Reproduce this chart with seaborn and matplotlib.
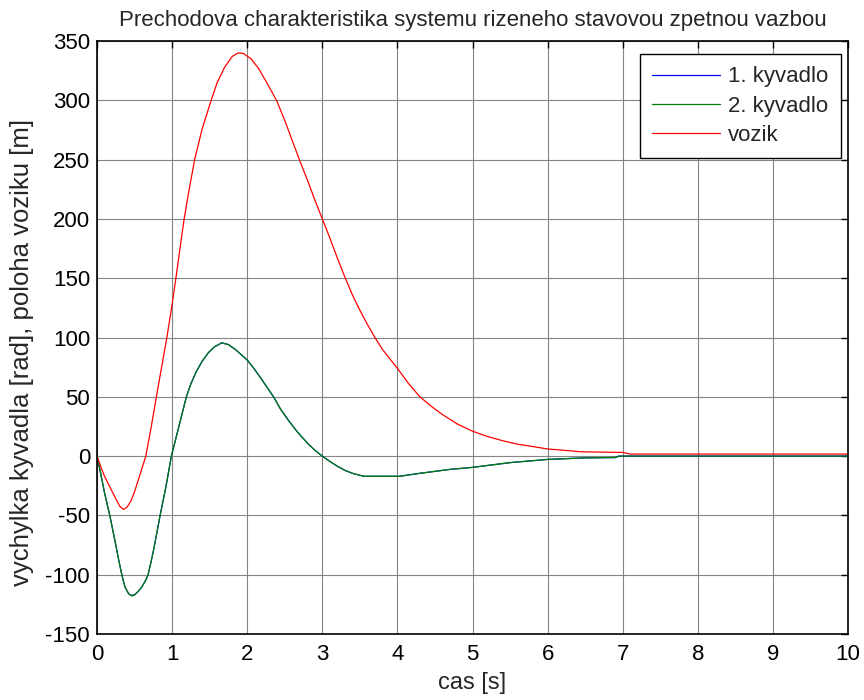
import matplotlib
matplotlib.use("Agg")
import matplotlib.pyplot as plt
import seaborn as sns
import pandas as pd

# Step response of the double pendulum on a cart under state feedback
t_pend = [0, 0.05, 0.1, 0.17, 0.25, 0.29, 0.33, 0.37, 0.42, 0.46, 0.5, 0.55,
          0.6, 0.65, 0.68, 0.72, 0.76, 0.8, 0.84, 0.92, 0.99, 1.09, 1.19,
          1.25, 1.32, 1.4, 1.48, 1.56, 1.66, 1.75, 1.85, 2.0, 2.1, 2.2, 2.35,
          2.44, 2.55, 2.66, 2.8, 2.9, 3.0, 3.1, 3.2, 3.3, 3.4, 3.55, 4.03,
          4.3, 4.7, 5.0, 5.5, 6.0, 6.5, 6.9, 6.95, 10]
pend1 = [0, -15, -31, -50, -75, -88, -100, -110, -116, -117.5, -117, -114,
         -110, -104.5, -100, -89, -77, -63.5, -50, -25, 0, 25, 50, 61, 71,
         80, 87, 92, 95.5, 94, 89.5, 81, 73, 64, 50, 40, 30, 21, 11, 5, 0,
         -4.5, -8.5, -12, -14.5, -17, -17, -14.5, -11.2, -9.5, -5.5, -2.8,
         -1.5, -1.2, 0, 0]
pend2 = [0, -15, -31, -50, -75, -88, -100, -110, -116, -118, -117, -114,
         -110, -104.5, -100, -89, -77, -63.5, -50, -25, 0, 25, 50, 61, 71,
         80, 87, 92, 95.5, 94, 89.5, 81, 73, 64, 50, 40, 30, 21, 11, 5, 0,
         -4.5, -8.5, -12, -14.5, -17, -17, -14.5, -11.2, -9.5, -5.5, -2.8,
         -1.5, -1.2, 0, 0]

t_cart = [0, 0.05, 0.1, 0.17, 0.25, 0.3, 0.35, 0.4, 0.45, 0.5, 0.55, 0.6,
          0.65, 0.72, 0.79, 0.86, 0.93, 1.0, 1.05, 1.1, 1.16, 1.23, 1.3, 1.4,
          1.52, 1.6, 1.7, 1.8, 1.88, 1.95, 2.05, 2.15, 2.25, 2.39, 2.5, 2.6,
          2.7, 2.8, 2.9, 3.0, 3.1, 3.2, 3.3, 3.4, 3.5, 3.6, 3.7, 3.8, 3.9,
          4.0, 4.15, 4.3, 4.45, 4.6, 4.8, 5.0, 5.2, 5.4, 5.6, 5.77, 6.0, 6.2,
          6.45, 7.0, 7.1, 10]
cart = [0, -9, -17, -26, -36, -42, -45, -43, -38, -30, -20, -10, 0, 24, 50,
        75, 100, 128, 150, 173, 200, 226, 250, 276, 300, 315, 328, 337, 340,
        339.5, 335, 327, 316, 300, 283, 266, 249, 233, 216, 200, 184, 167,
        151, 136, 123, 111, 100, 90, 82, 74, 61, 50, 42, 35, 27, 21, 16.5,
        13, 10, 8.4, 6, 5, 3.6, 3.1, 1.7, 1.7]

series_labels = ["1. kyvadlo", "2. kyvadlo", "vozik"]
series_colors = ["#0000ff", "#008000", "#ff0000"]

x_ticks = list(range(0, 11))
y_ticks = list(range(-150, 351, 50))

sns.set_style("white")
plt.rcParams["font.family"] = ["Liberation Sans", "DejaVu Sans"]
plt.rcParams["axes.unicode_minus"] = False

fig = plt.figure(figsize=(8.64, 7.0), dpi=100)
ax = fig.add_axes([0.1123, 0.0943, 0.8692, 0.8471])

frames = [
    pd.DataFrame({"t": t_pend, "y": pend1}),
    pd.DataFrame({"t": t_pend, "y": pend2}),
    pd.DataFrame({"t": t_cart, "y": cart}),
]
for df, lab, col in zip(frames, series_labels, series_colors):
    sns.lineplot(data=df, x="t", y="y", ax=ax, color=col, label=lab,
                 linewidth=0.9, estimator=None, sort=False)

ax.set_xlim(0, 10)
ax.set_ylim(-150, 350)
ax.set_xticks(x_ticks)
ax.set_yticks(y_ticks)
ax.grid(True, color="#858585", linewidth=0.8)
ax.set_axisbelow(True)

for s in ax.spines.values():
    s.set_visible(True)
    s.set_color("black")
    s.set_linewidth(1.2)

ax.tick_params(direction="in", length=5, width=1.0, labelsize=16,
               top=True, right=True, colors="black", pad=7)
ax.tick_params(axis="y", pad=5)

ax.set_title("Prechodova charakteristika systemu rizeneho stavovou zpetnou vazbou",
             fontsize=16, pad=11)
ax.set_xlabel("cas [s]", fontsize=17, labelpad=5)
ax.set_ylabel("vychylka kyvadla [rad], poloha voziku [m]", fontsize=18.5)
ax.yaxis.set_label_coords(-0.084, 0.474)

leg = ax.legend(loc="upper right", bbox_to_anchor=(0.990, 0.978),
                borderaxespad=0, fontsize=16, frameon=True, fancybox=False,
                framealpha=1, edgecolor="black", handlelength=3.05,
                handletextpad=0.36, labelspacing=0.38, borderpad=0.55)
leg.get_frame().set_linewidth(1.0)

fig.savefig("out.png", dpi=100)
